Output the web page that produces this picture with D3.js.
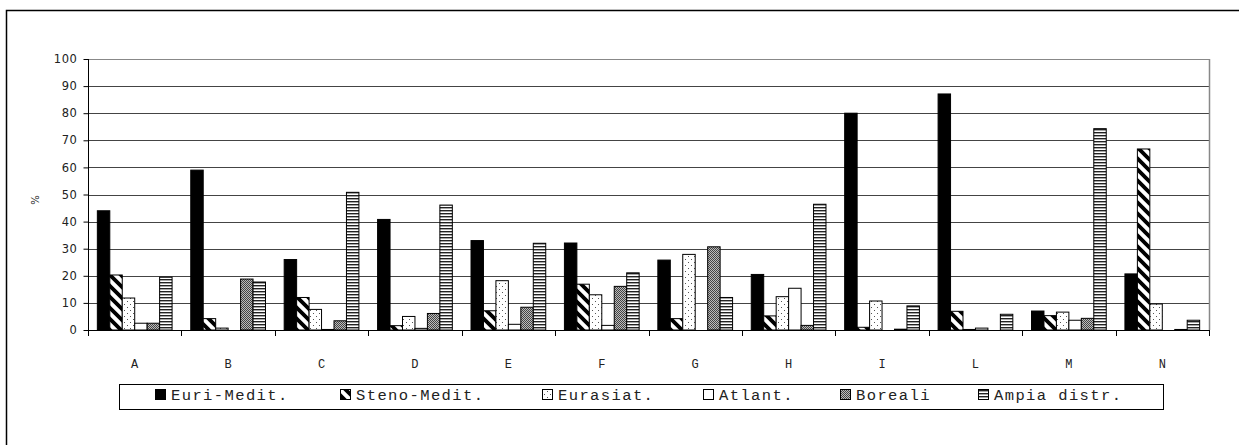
<!DOCTYPE html>
<html><head><meta charset="utf-8">
<script src="https://cdn.jsdelivr.net/npm/d3@7"></script>
<style>body{margin:0;background:#fff}svg{display:block}</style>
</head><body>
<svg id="c" width="1239" height="445"></svg>
<script>
const categories = ["A","B","C","D","E","F","G","H","I","L","M","N"];
const seriesNames = ["Euri-Medit.","Steno-Medit.","Eurasiat.","Atlant.","Boreali","Ampia distr."];
const euriMedit  = [44, 59, 26, 40.8, 33, 32.1, 25.8, 20.5, 80, 87.1, 7, 20.7];
const stenoMedit = [20.3, 4.2, 12, 1.6, 7.1, 16.9, 4.2, 5.2, 1, 6.9, 5.3, 66.8];
const eurasiat   = [11.8, 0.7, 7.6, 5, 18.2, 13, 27.9, 12.3, 10.7, 0.2, 6.6, 9.6];
const atlant     = [2.5, 0, 0.2, 0.6, 2.1, 1.7, 0, 15.4, 0, 0.7, 3.6, 0];
const boreali    = [2.5, 18.8, 3.4, 6.1, 8.4, 16.1, 30.7, 1.7, 0.3, 0, 4.3, 0.2];
const ampiaDistr = [19.5, 17.7, 50.8, 46.1, 32, 21.1, 12, 46.4, 8.9, 5.8, 74.3, 3.6];
const yTicks = [0,10,20,30,40,50,60,70,80,90,100];
const yLabel = "%";

const seriesValues = [euriMedit, stenoMedit, eurasiat, atlant, boreali, ampiaDistr];
const fills = ["url(#pEuri)","url(#pSteno)","url(#pEuras)","url(#pAtl)","url(#pBor)","url(#pAmp)"];

const svg = d3.select("#c");
const L = 88, R = 1209, T = 59, B = 330;

// patterns
const defs = svg.append("defs");
function pat(id,w,h,build){const p=defs.append("pattern").attr("id",id).attr("patternUnits","userSpaceOnUse").attr("width",w).attr("height",h);build(p);}
pat("pEuri",4,4,p=>p.append("rect").attr("width",4).attr("height",4).attr("fill","#000"));
pat("pSteno",11,11,p=>{p.append("rect").attr("width",11).attr("height",11).attr("fill","#fff");
  p.append("path").attr("d","M-1,-1L12,12M-6.5,4.5L6.5,17.5M4.5,-6.5L17.5,6.5").attr("stroke","#000").attr("stroke-width",3.8);});
pat("pEuras",6,6,p=>{p.append("rect").attr("width",6).attr("height",6).attr("fill","#fff");
  p.append("rect").attr("x",1).attr("y",1).attr("width",1).attr("height",1).attr("fill","#555");
  p.append("rect").attr("x",4).attr("y",4).attr("width",1).attr("height",1).attr("fill","#555");});
pat("pAtl",4,4,p=>p.append("rect").attr("width",4).attr("height",4).attr("fill","#fff"));
pat("pBor",2,2,p=>{p.append("rect").attr("width",2).attr("height",2).attr("fill","#bbb");
  p.append("rect").attr("width",1).attr("height",1).attr("fill","#444");
  p.append("rect").attr("x",1).attr("y",1).attr("width",1).attr("height",1).attr("fill","#444");});
pat("pAmp",3,3,p=>{p.append("rect").attr("width",3).attr("height",3).attr("fill","#fff");
  p.append("rect").attr("width",3).attr("height",1.4).attr("fill","#222");});

// outer border
svg.append("rect").attr("x",6.5).attr("y",10.5).attr("width",1400).attr("height",600)
  .attr("fill","none").attr("stroke","#000").attr("stroke-width",1.5);

const x0 = d3.scaleBand().domain(categories).range([L,R]).paddingInner(0).paddingOuter(0);
const x1 = d3.scaleBand().domain(d3.range(seriesNames.length)).range([0,x0.bandwidth()]).paddingInner(0).paddingOuter(0.75);
const y = d3.scaleLinear().domain([0,100]).range([B,T]);

// gridlines
svg.append("g").selectAll("line").data(yTicks.filter(t=>t>0)).join("line")
  .attr("x1",L).attr("x2",R).attr("y1",d=>Math.round(y(d))+0.5).attr("y2",d=>Math.round(y(d))+0.5)
  .attr("stroke",d=>d===100?"#888":"#444").attr("stroke-width",1);
svg.append("line").attr("x1",R+0.5).attr("x2",R+0.5).attr("y1",T).attr("y2",B).attr("stroke","#888").attr("stroke-width",1.5);

// bars
const gBars = svg.append("g");
categories.forEach((c,ci)=>{
  seriesValues.forEach((vals,si)=>{
    const v = vals[ci];
    if (v<=0) return;
    gBars.append("rect")
      .attr("x",x0(c)+x1(si)).attr("width",x1.bandwidth())
      .attr("y",y(v)).attr("height",y(0)-y(v))
      .attr("fill",fills[si]).attr("stroke","#000").attr("stroke-width",1);
  });
});

// y axis
const yAxis = d3.axisLeft(y).tickValues(yTicks).tickSize(5).tickPadding(6);
const gy = svg.append("g").attr("transform",`translate(${L+0.5},0)`).call(yAxis);
gy.select(".domain").attr("stroke","#000").attr("d",`M0,${T}V${B}`);
gy.selectAll(".tick line").attr("stroke","#000");
gy.selectAll("text").attr("font-family","DejaVu Sans").attr("font-size",11.5).attr("fill","#222").attr("letter-spacing","0.6px");

// x axis
const xAxis = d3.axisBottom(x0).tickSize(0).tickPadding(0).tickFormat(d=>d);
const gx = svg.append("g").attr("transform",`translate(0,${B+0.5})`).call(xAxis);
gx.select(".domain").attr("stroke","#000").attr("d",`M${L},0H${R}`);
gx.selectAll("text").attr("font-family","Liberation Mono").attr("font-size",12).attr("fill","#222").attr("dy",0).attr("y",37);
// category boundary ticks
const bounds = categories.map(c=>x0(c)).concat([R]);
svg.append("g").selectAll("line").data(bounds).join("line")
  .attr("x1",d=>Math.round(d)+0.5).attr("x2",d=>Math.round(d)+0.5).attr("y1",B).attr("y2",B+6)
  .attr("stroke","#000");

// y label
svg.append("text").attr("transform",`translate(39,200) rotate(-90)`).attr("text-anchor","middle")
  .attr("font-family","DejaVu Sans").attr("font-size",10).attr("fill","#222").text(yLabel);

// legend
const legendX = [155,340,542,703,840,978];
svg.append("rect").attr("x",119.5).attr("y",384.5).attr("width",1044).attr("height",25)
  .attr("fill","#fff").attr("stroke","#000").attr("stroke-width",1);
seriesNames.forEach((n,i)=>{
  svg.append("rect").attr("x",legendX[i]+0.5).attr("y",389.5).attr("width",10).attr("height",10)
    .attr("fill",fills[i]).attr("stroke","#000").attr("stroke-width",1);
  svg.append("text").attr("x",legendX[i]+16).attr("y",399.5)
    .attr("font-family","Liberation Mono").attr("font-size",15.5).attr("letter-spacing","1.4px")
    .attr("fill","#222").text(n);
});
</script>
</body></html>
